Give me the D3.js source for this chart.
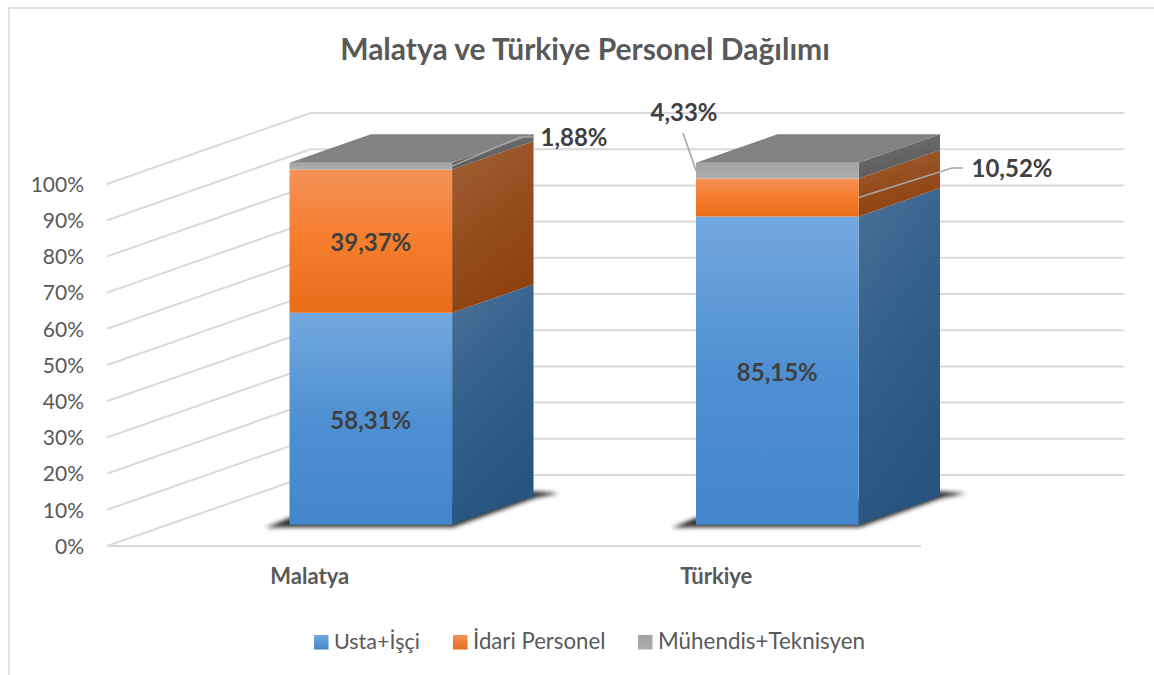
<!DOCTYPE html>
<html>
<head>
<meta charset="utf-8">
<title>Malatya ve Türkiye Personel Dağılımı</title>
<script src="https://cdn.jsdelivr.net/npm/d3@7"></script>
<style>
  html, body { margin: 0; padding: 0; background: #fff; }
  svg { display: block; }
  text { font-family: Lato, "Open Sans", sans-serif; }
</style>
</head>
<body>
<script>
var chartTitle = "Malatya ve Türkiye Personel Dağılımı";
var categories = ["Malatya", "Türkiye"];
var seriesNames = ["Usta+İşçi", "İdari Personel", "Mühendis+Teknisyen"];
var ustaIsci = [58.31, 85.15];
var idariPersonel = [39.37, 10.52];
var muhendisTeknisyen = [1.88, 4.33];
var tickValues = [0, 0.1, 0.2, 0.3, 0.4, 0.5, 0.6, 0.7, 0.8, 0.9, 1];

var width = 1154, height = 675;

// colours per series: front gradient, side gradient
var palette = [
  { front: ["#73a8df", "#4f90d2", "#4386ca"], side: ["#4b7097", "#33608c", "#27557f"] },
  { front: ["#f59158", "#f57d2c", "#e96c1a"], side: ["#a05f38", "#974f20", "#8e4210"] },
  { front: ["#a2a2a2", "#a8a8a8", "#adadad"], side: ["#757575", "#666666", "#5a5a5a"] }
];

var svg = d3.select("body").append("svg")
    .attr("width", width)
    .attr("height", height);

var defs = svg.append("defs");
defs.append("filter").attr("id", "shadowBlur")
    .attr("x", "-20%").attr("y", "-20%").attr("width", "140%").attr("height", "140%")
  .append("feGaussianBlur").attr("stdDeviation", 2.2);

palette.forEach(function (p, i) {
  var f = defs.append("linearGradient").attr("id", "front" + i)
      .attr("x1", 0).attr("y1", 0).attr("x2", 0).attr("y2", 1);
  var s = defs.append("linearGradient").attr("id", "side" + i)
      .attr("x1", 0).attr("y1", 0).attr("x2", 0.35).attr("y2", 1);
  [0, 0.5, 1].forEach(function (o, k) {
    f.append("stop").attr("offset", o).attr("stop-color", p.front[k]);
    s.append("stop").attr("offset", o).attr("stop-color", p.side[k]);
  });
  var l = defs.append("linearGradient").attr("id", "legend" + i)
      .attr("x1", 0).attr("y1", 0).attr("x2", 0).attr("y2", 1);
  l.append("stop").attr("offset", 0).attr("stop-color", p.front[0]);
  l.append("stop").attr("offset", 1).attr("stop-color", p.front[2]);
});

// chart frame, only the top and left edges are inside the picture
svg.append("path")
    .attr("d", "M9,675V8H1154")
    .attr("fill", "none")
    .attr("stroke", "#d9d9d9")
    .attr("stroke-width", 1.5);

svg.append("text")
    .attr("x", 585).attr("y", 60)
    .attr("text-anchor", "middle")
    .attr("font-size", 30)
    .attr("font-weight", "bold")
    .attr("fill", "#595959")
    .text(chartTitle);

var x = d3.scaleBand().domain(categories).range([106.5, 919.5])
    .paddingInner(0.6).paddingOuter(0.3);
var y = d3.scaleLinear().domain([0, 1]).range([546, 184]);
var depthX = d3.scaleLinear().domain([0, 1]).range([0, 203.5]);
var depthY = d3.scaleLinear().domain([0, 1]).range([0, -71]);

var barDepth = [0.3, 0.7];

function project(px, v, d) {
  return [px + depthX(d), y(v) + depthY(d)];
}

// side wall and back wall lines
var grid = svg.append("g").attr("fill", "none").attr("stroke", "#d9d9d9").attr("stroke-width", 2);
tickValues.forEach(function (t) {
  var a = project(107, t, 0), b = project(107, t, 1), c = project(921, t, 1);
  grid.append("path").attr("d", d3.line()([a, b, c]));
});
grid.append("path").attr("d", d3.line()([project(107, 0, 0), project(921, 0, 0)]));

var yAxis = d3.axisLeft(y).tickValues(tickValues).tickSize(0).tickPadding(0)
    .tickFormat(d3.format(".0%"));
var yAxisG = svg.append("g").attr("transform", "translate(84,0.5)").call(yAxis);
yAxisG.select(".domain").remove();
yAxisG.selectAll("text")
    .attr("font-size", 21)
    .attr("font-family", "Lato")
    .attr("fill", "#595959");

var rows = categories.map(function (c, i) {
  return { cat: c, s0: ustaIsci[i], s1: idariPersonel[i], s2: muhendisTeknisyen[i] };
});
// 100% stacked, Malatya labels only add up to 99.56
var stacked = d3.stack().keys(["s0", "s1", "s2"]).offset(d3.stackOffsetExpand)(rows);

function poly(pts) { return d3.line()(pts) + "Z"; }

categories.forEach(function (cat, c) {
  var x0 = x(cat), x1 = x0 + x.bandwidth();
  var g = svg.append("g").attr("class", "bar");

  var fl = project(x0, 0, barDepth[0]), fr = project(x1, 0, barDepth[0]), br = project(x1, 0, barDepth[1]);
  g.append("path")
      .attr("d", poly([
        [fl[0] - 24, fl[1] + 3], [fl[0], fl[1] - 7], [br[0], br[1] - 5],
        [br[0] + 26, br[1] - 3], [br[0] + 1, br[1] + 2], [fr[0] + 1, fr[1] + 2.5], [fl[0], fl[1] + 2.5]
      ]))
      .attr("fill", "#333333")
      .attr("filter", "url(#shadowBlur)");

  stacked.forEach(function (layer, i) {
    var v0 = layer[c][0], v1 = layer[c][1];
    g.append("path")
        .attr("d", poly([project(x1, v0, barDepth[0]), project(x1, v1, barDepth[0]),
                         project(x1, v1, barDepth[1]), project(x1, v0, barDepth[1])]))
        .attr("fill", "url(#side" + i + ")");
    g.append("path")
        .attr("d", poly([project(x0, v0, barDepth[0]), project(x1, v0, barDepth[0]),
                         project(x1, v1, barDepth[0]), project(x0, v1, barDepth[0])]))
        .attr("fill", "url(#front" + i + ")");
  });

  // top cap
  g.append("path")
      .attr("d", poly([project(x0, 1, barDepth[0]), project(x1, 1, barDepth[0]),
                       project(x1, 1, barDepth[1]), project(x0, 1, barDepth[1])]))
      .attr("fill", "#828282");

  svg.append("text")
      .attr("x", x0 + x.bandwidth() / 2).attr("y", 578.5)
      .attr("text-anchor", "middle")
      .attr("dominant-baseline", "middle")
      .attr("font-size", 22)
      .attr("font-weight", "bold")
      .attr("fill", "#595959")
      .text(cat);
});

// labels: s = series, c = category, text is the value as printed
var labelFmt = function (v) { return v.toFixed(2).replace(".", ",") + "%"; };
var seriesValues = [ustaIsci, idariPersonel, muhendisTeknisyen];

function frontMid(s, c, side) {
  var px = side === "left" ? x(categories[c]) : side === "right" ? x(categories[c]) + x.bandwidth() : x(categories[c]) + x.bandwidth() / 2;
  var l = stacked[s][c];
  return project(px, (l[0] + l[1]) / 2, barDepth[0]);
}

var labelG = svg.append("g")
    .attr("font-size", 24)
    .attr("font-weight", "bold")
    .attr("fill", "#404040")
    .attr("text-anchor", "middle");

function addLabel(s, c, lx, ly) {
  labelG.append("text").attr("x", lx).attr("y", ly)
      .attr("dominant-baseline", "middle")
      .text(labelFmt(seriesValues[s][c]));
}

[[0, 0], [1, 0], [0, 1]].forEach(function (d) {
  var m = frontMid(d[0], d[1]);
  addLabel(d[0], d[1], m[0], m[1] + 4);
});

var leader = svg.append("g").attr("fill", "none").attr("stroke", "#a6a6a6").attr("stroke-width", 1.6);

leader.append("path").attr("d", d3.line()([frontMid(2, 0, "right"), [520, 137], [534, 137]]));
addLabel(2, 0, 574, 140);

leader.append("path").attr("d", d3.line()([frontMid(2, 1, "left"), [683, 133]]));
addLabel(2, 1, 684, 115);

leader.append("path").attr("d", d3.line()([frontMid(1, 1, "right"), [952, 168], [963, 168]]));
addLabel(1, 1, 1012, 171);

// legend
var legendX = [314, 453, 638];
var legendSize = [21.5, 22.2, 22.4];
var legendG = svg.append("g");
seriesNames.forEach(function (name, i) {
  legendG.append("rect")
      .attr("x", legendX[i]).attr("y", 635)
      .attr("width", 14.5).attr("height", 14.5)
      .attr("fill", "url(#legend" + i + ")");
  legendG.append("text")
      .attr("x", legendX[i] + 20).attr("y", 649)
      .attr("font-size", legendSize[i])
      .attr("fill", "#595959")
      .text(name);
});
</script>
</body>
</html>
